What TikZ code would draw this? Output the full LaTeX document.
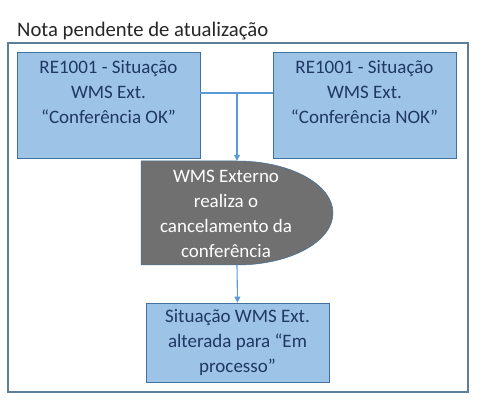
\documentclass[tikz,border=0pt]{standalone}
\usepackage{fontspec}
\setmainfont{Carlito}
\usepackage{xcolor}
\usetikzlibrary{arrows.meta}
\definecolor{boxfill}{HTML}{9DC3E6}
\definecolor{boxline}{HTML}{41719C}
\definecolor{boxtext}{HTML}{1F3864}
\definecolor{linkblue}{HTML}{5B9BD5}
\definecolor{framegray}{HTML}{5E7F99}
\definecolor{delaygray}{HTML}{707070}
\tikzset{
  infobox/.style={draw=boxline,fill=boxfill,line width=0.8pt,minimum width=183pt,inner sep=0pt},
  infotext/.style={text=boxtext,align=center,font=\fontsize{19}{25}\selectfont,inner sep=0pt},
  link/.style={draw=linkblue,line width=1.1pt},
  linkarrow/.style={link,-{Triangle[length=6pt,width=6pt]}}
}

\begin{document}
\begin{tikzpicture}[x=1pt,y=-1pt]
  \useasboundingbox (0,0) rectangle (485,403);
  % frame and its title
  \draw [framegray,line width=1.4pt] (8,43) rectangle (468,392);
  \node (title) [anchor=base west,inner sep=0pt,text=black!85,font=\fontsize{20.7}{25}\selectfont] at (17,36.5) {Nota pendente de atualização};
  % the two status boxes
  \node (ok) [infobox,minimum height=106pt] at (108.5,105) {};
  \node (oktext) [infotext,anchor=north] at (108.5,60) {RE1001 - Situação\\WMS Ext.\\“Conferência OK”};
  \node (nok) [infobox,minimum height=106pt] at (364.5,105) {};
  \node (noktext) [infotext,anchor=north] at (364.5,60) {RE1001 - Situação\\WMS Ext.\\“Conferência NOK”};
  % delay shape
  \draw [fill=delaygray,draw=boxline,line width=0.5pt] (141,161) -- (237,161) arc [start angle=-90,end angle=90,x radius=96,y radius=52] -- (141,265) -- cycle;
  \node (cancel) [infotext,text=white,minimum width=192pt,minimum height=104pt] at (237,213) {};
  \node (canceltext) [infotext,text=white] at (226,214) {WMS Externo\\realiza o\\cancelamento da\\conferência};
  % result box
  \node (emproc) [infobox,minimum height=79pt,infotext] at (237.5,342.5) {Situação WMS Ext.\\alterada para “Em\\processo”};
  % connectors
  \coordinate (junction) at (237,93);
  \draw [link] (ok.east |- junction) -- (nok.west |- junction);
  \draw [linkarrow] (junction) -- (cancel.north);
  \draw [linkarrow] (cancel.south) -- (emproc.north);
\end{tikzpicture}
\end{document}
